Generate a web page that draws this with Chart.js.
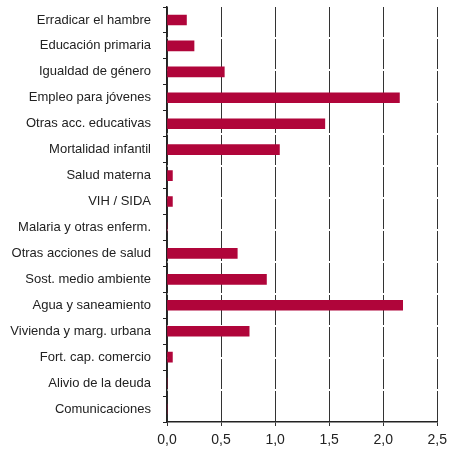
<!DOCTYPE html>
<html>
<head>
<meta charset="utf-8">
<script src="https://cdn.jsdelivr.net/npm/chart.js@4.4.0/dist/chart.umd.min.js"></script>
<style>
  html, body { margin: 0; padding: 0; background: #fff; }
  #wrap { width: 453px; height: 451px; }
</style>
</head>
<body>
<div id="wrap"><canvas id="myChart" width="453" height="451"></canvas></div>
<script>
var categorias = [
	'Erradicar el hambre',
	'Educación primaria',
	'Igualdad de género',
	'Empleo para jóvenes',
	'Otras acc. educativas',
	'Mortalidad infantil',
	'Salud materna',
	'VIH / SIDA',
	'Malaria y otras enferm.',
	'Otras acciones de salud',
	'Sost. medio ambiente',
	'Agua y saneamiento',
	'Vivienda y marg. urbana',
	'Fort. cap. comercio',
	'Alivio de la deuda',
	'Comunicaciones'
];
var valores = [0.18, 0.25, 0.53, 2.15, 1.46, 1.04, 0.05, 0.05, 0, 0.65, 0.92, 2.18, 0.76, 0.05, 0, 0];
var ejeMin = 0;
var ejeMax = 2.5;
var ejePaso = 0.5;

var ctx = document.getElementById('myChart').getContext('2d');

var myChart = new Chart(ctx, {
	type: 'bar',
	data: {
		labels: categorias,
		datasets: [{
			data: valores,
			backgroundColor: '#b0053a',
			barThickness: 10
		}]
	},
	options: {
		indexAxis: 'y',
		responsive: false,
		animation: false,
		layout: { padding: { top: 7, right: 12, left: 0, bottom: 0 } },
		plugins: {
			legend: { display: false },
			tooltip: { enabled: false }
		},
		scales: {
			x: {
				min: ejeMin,
				max: ejeMax,
				afterFit: function(scale) { scale.height = 29; },
				ticks: {
					stepSize: ejePaso,
					color: '#222',
					font: { family: 'Liberation Sans', size: 14 },
					padding: 6,
					callback: function(v) { return v.toFixed(1).replace('.', ','); }
				},
				grid: {
					color: '#333',
					lineWidth: 1,
					tickLength: 4,
					drawTicks: true
				},
				border: { display: true, color: '#222', width: 1.5, dash: [30, 2] }
			},
			y: {
				afterFit: function(scale) {
					scale.width = 167;
					scale.paddingTop = 0;
					scale.paddingBottom = 0;
				},
				ticks: {
					color: '#222',
					font: { family: 'Liberation Sans', size: 13 },
					padding: 12,
					autoSkip: false
				},
				grid: {
					offset: true,
					drawOnChartArea: false,
					color: '#222',
					tickLength: 4
				},
				border: { display: true, color: '#222', width: 1.5 }
			}
		}
	}
});
</script>
</body>
</html>
